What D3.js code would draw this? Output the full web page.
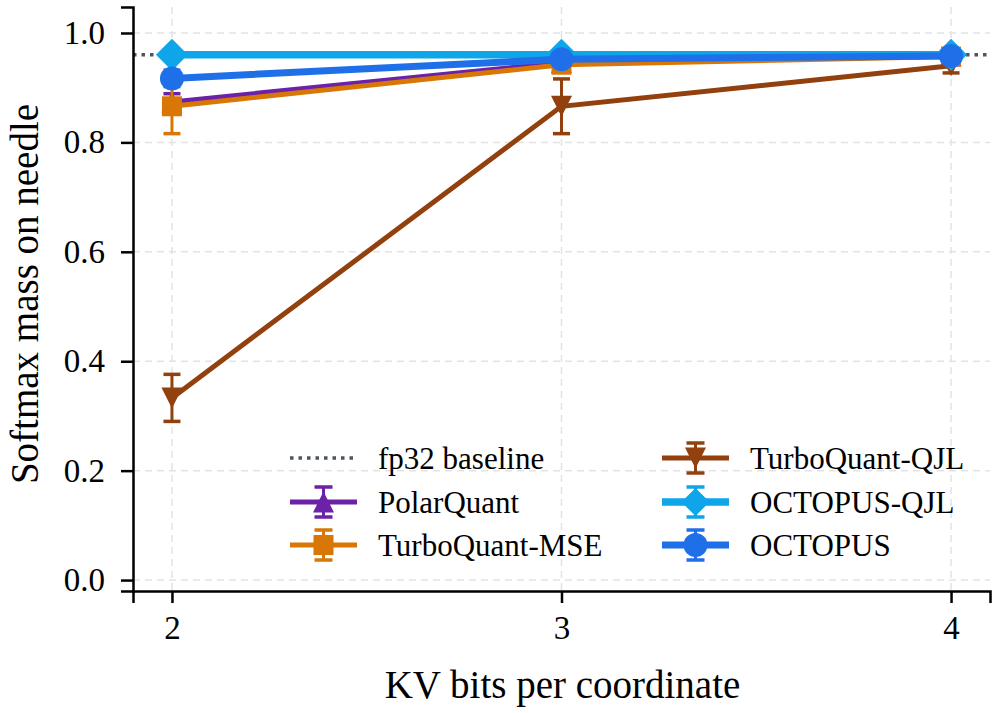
<!DOCTYPE html>
<html>
<head>
<meta charset="utf-8">
<script src="https://cdn.jsdelivr.net/npm/d3@7"></script>
<style>
  html, body { margin: 0; padding: 0; background: #fff; }
  svg, svg text { font-family: "Liberation Serif", Tinos, "Times New Roman", Times, "DejaVu Serif", serif !important; }
</style>
</head>
<body>
<div id="chart"></div>
<script>
// data
const bits = [2, 3, 4];
const baseline = 0.96;
const polarVals = [0.874, 0.946, 0.958];
const polarErr = [0.015, 0.005, 0.003];
const mseVals = [0.866, 0.942, 0.957];
const mseErr = [0.05, 0.008, 0.004];
const qjlVals = [0.333, 0.866, 0.940];
const qjlErr = [0.043, 0.05, 0.013];
const octQjlVals = [0.960, 0.960, 0.960];
const octQjlErr = [0.003, 0.002, 0.002];
const octVals = [0.917, 0.952, 0.958];
const octErr = [0.015, 0.005, 0.003];
const yTicks = [0.0, 0.2, 0.4, 0.6, 0.8, 1.0];

const series = [
  { name: 'PolarQuant', vals: polarVals, err: polarErr, color: '#6b21a8', marker: 'tri-up', lw: 5 },
  { name: 'TurboQuant-MSE', vals: mseVals, err: mseErr, color: '#d97706', marker: 'square', lw: 5 },
  { name: 'TurboQuant-QJL', vals: qjlVals, err: qjlErr, color: '#92400e', marker: 'tri-down', lw: 5 },
  { name: 'OCTOPUS-QJL', vals: octQjlVals, err: octQjlErr, color: '#0ea5e9', marker: 'diamond', lw: 7.5 },
  { name: 'OCTOPUS', vals: octVals, err: octErr, color: '#1f6fe8', marker: 'circle', lw: 7 }
];

const W = 998, H = 713;
const margin = { left: 133, right: 8, top: 7, bottom: 122 };
const FONT = '"Liberation Serif", Tinos, "Times New Roman", Times, "DejaVu Serif", serif';

const svg = d3.select('#chart').append('svg')
  .attr('width', W)
  .attr('height', H)
  .attr('font-family', FONT);

const x = d3.scaleLinear().domain([1.9, 4.1]).range([margin.left, W - margin.right]);
const y = d3.scaleLinear().domain([-0.02, 1.0475]).range([H - margin.bottom, margin.top]);

// grid
const grid = svg.append('g');
grid.selectAll('line.gy').data(yTicks).enter().append('line')
  .attr('x1', margin.left).attr('x2', W - margin.right)
  .attr('y1', d => y(d)).attr('y2', d => y(d))
  .attr('stroke', '#e3e3e3').attr('stroke-width', 1.5).attr('stroke-dasharray', '7,5');
grid.selectAll('line.gx').data(bits).enter().append('line')
  .attr('x1', d => x(d)).attr('x2', d => x(d))
  .attr('y1', margin.top).attr('y2', H - margin.bottom)
  .attr('stroke', '#e3e3e3').attr('stroke-width', 1.5).attr('stroke-dasharray', '7,5');

// baseline
svg.append('line')
  .attr('x1', margin.left).attr('x2', W - margin.right)
  .attr('y1', y(baseline)).attr('y2', y(baseline))
  .attr('stroke', '#4b5563').attr('stroke-width', 3.5)
  .attr('stroke-dasharray', '3.5,5');

function markerPath(type, s) {
  if (type === 'circle') {
    return d3.arc()({ innerRadius: 0, outerRadius: s, startAngle: 0, endAngle: 2 * Math.PI });
  }
  if (type === 'square') return `M${-s},${-s}H${s}V${s}H${-s}Z`;
  if (type === 'diamond') return `M0,${-s}L${s},0L0,${s}L${-s},0Z`;
  if (type === 'tri-up') return `M0,${-s}L${s},${s}L${-s},${s}Z`;
  if (type === 'tri-down') return `M0,${s}L${s},${-s}L${-s},${-s}Z`;
}
const markerSize = { 'tri-up': 10.5, 'tri-down': 10.5, 'square': 10, 'diamond': 16, 'circle': 12 };

const line = d3.line().x((d, i) => x(bits[i])).y(d => y(d));

series.forEach(s => {
  const g = svg.append('g');
  // error bars
  bits.forEach((b, i) => {
    const lo = y(s.vals[i] - s.err[i]), hi = y(s.vals[i] + s.err[i]);
    g.append('line').attr('x1', x(b)).attr('x2', x(b)).attr('y1', lo).attr('y2', hi)
      .attr('stroke', s.color).attr('stroke-width', 3);
    [lo, hi].forEach(cy => {
      g.append('line').attr('x1', x(b) - 8.5).attr('x2', x(b) + 8.5).attr('y1', cy).attr('y2', cy)
        .attr('stroke', s.color).attr('stroke-width', 3.5);
    });
  });
  g.append('path').datum(s.vals).attr('d', line)
    .attr('fill', 'none').attr('stroke', s.color).attr('stroke-width', s.lw);
  g.selectAll('path.m').data(s.vals).enter().append('path')
    .attr('transform', (d, i) => `translate(${x(bits[i])},${y(d)})`)
    .attr('d', markerPath(s.marker, markerSize[s.marker]))
    .attr('fill', s.color);
});

// axes
const yAxis = svg.append('g')
  .attr('transform', `translate(${margin.left},0)`)
  .call(d3.axisLeft(y).tickValues(yTicks).tickFormat(d3.format('.1f')).tickSizeOuter(0).tickSize(12).tickPadding(16));
const xAxis = svg.append('g')
  .attr('transform', `translate(0,${H - margin.bottom})`)
  .call(d3.axisBottom(x).tickValues(bits).tickFormat(d3.format('d')).tickSizeOuter(0).tickSize(12).tickPadding(10));
[yAxis, xAxis].forEach(a => {
  a.attr('font-family', FONT).attr('font-size', 33);
  a.select('.domain').attr('stroke', '#000').attr('stroke-width', 2.5);
  a.selectAll('.tick line').attr('stroke', '#000').attr('stroke-width', 2.5);
  a.selectAll('.tick text').attr('fill', '#000');
});
xAxis.selectAll('.tick text').attr('dy', '0.78em');

svg.append('text')
  .attr('x', (margin.left + W - margin.right) / 2 + 1)
  .attr('y', 698)
  .attr('text-anchor', 'middle')
  .attr('font-size', 39)
  .text('KV bits per coordinate');

svg.append('text')
  .attr('transform', `translate(38,${(margin.top + H - margin.bottom) / 2 - 5}) rotate(-90)`)
  .attr('text-anchor', 'middle')
  .attr('font-size', 39)
  .text('Softmax mass on needle');

// legend
const legendItems = [
  { name: 'fp32 baseline', col: 0, row: 0, base: true },
  { s: series[0], col: 0, row: 1 },
  { s: series[1], col: 0, row: 2 },
  { s: series[2], col: 1, row: 0 },
  { s: series[3], col: 1, row: 1 },
  { s: series[4], col: 1, row: 2 }
];
const colX = [290, 662];
const handleW = 67;
const textX = [378, 750];
const rowY = [458, 502, 545];
const legend = svg.append('g');
legendItems.forEach(it => {
  const x0 = colX[it.col], cy = rowY[it.row], cx = x0 + handleW / 2;
  if (it.base) {
    legend.append('line').attr('x1', x0).attr('x2', x0 + handleW).attr('y1', cy).attr('y2', cy)
      .attr('stroke', '#4b5563').attr('stroke-width', 3.5).attr('stroke-dasharray', '3.5,5');
  } else {
    const s = it.s;
    legend.append('line').attr('x1', cx).attr('x2', cx).attr('y1', cy - 15).attr('y2', cy + 15)
      .attr('stroke', s.color).attr('stroke-width', 3);
    [cy - 15, cy + 15].forEach(v => {
      legend.append('line').attr('x1', cx - 9).attr('x2', cx + 9).attr('y1', v).attr('y2', v)
        .attr('stroke', s.color).attr('stroke-width', 3.5);
    });
    legend.append('line').attr('x1', x0).attr('x2', x0 + handleW).attr('y1', cy).attr('y2', cy)
      .attr('stroke', s.color).attr('stroke-width', s.lw);
    legend.append('path').attr('transform', `translate(${cx},${cy})`)
      .attr('d', markerPath(s.marker, markerSize[s.marker] * (s.marker === 'diamond' ? 0.88 : 1)))
      .attr('fill', s.color);
  }
  legend.append('text').attr('x', textX[it.col]).attr('y', cy).attr('dy', '0.35em')
    .attr('font-size', 31).text(it.base ? it.name : it.s.name);
});
</script>
</body>
</html>
